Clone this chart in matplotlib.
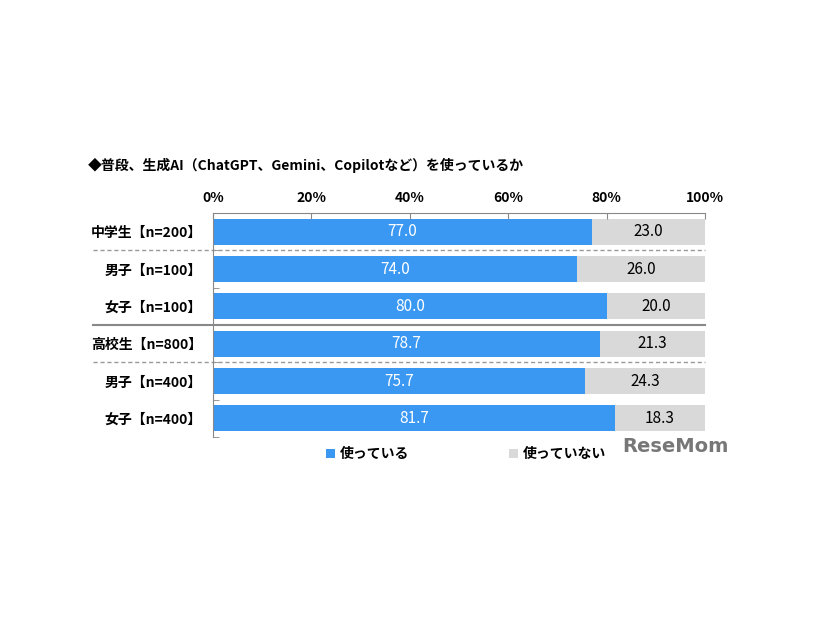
import matplotlib
matplotlib.use('Agg')
from matplotlib import pyplot as plt

plt.rcParams['font.family'] = ['Noto Sans CJK JP', 'DejaVu Sans']

title = '◆普段、生成AI（ChatGPT、Gemini、Copilotなど）を使っているか'
categories = ['中学生【n=200】', '男子【n=100】', '女子【n=100】',
              '高校生【n=800】', '男子【n=400】', '女子【n=400】']
using = [77.0, 74.0, 80.0, 78.7, 75.7, 81.7]
not_using = [23.0, 26.0, 20.0, 21.3, 24.3, 18.3]
series_names = ['使っている', '使っていない']

BLUE = '#3A98F2'
GREY = '#D9D9D9'


def main():
    fig = plt.figure(figsize=(8.26, 6.2), dpi=100)
    ax = fig.add_axes([213 / 826, 1 - 437 / 620, 492 / 826, 224 / 620])

    ys = list(range(len(categories)))
    ax.barh(ys, using, height=0.7, color=BLUE, label=series_names[0])
    ax.barh(ys, not_using, left=using, height=0.7, color=GREY, label=series_names[1])

    for y, u, n in zip(ys, using, not_using):
        ax.text(u / 2, y, f'{u:.1f}', ha='center', va='center', color='white', fontsize=11)
        ax.text(u + n / 2, y, f'{n:.1f}', ha='center', va='center', color='black', fontsize=11)

    ax.set_xlim(0, 100)
    ax.set_ylim(len(categories) - 0.5, -0.5)
    ax.set_yticks(ys)
    ax.set_yticklabels(categories, fontsize=10, fontweight='bold')
    ax.set_yticks([i - 0.5 for i in range(len(categories) + 1)], minor=True)
    ax.tick_params(axis='y', which='major', length=0, pad=8)
    ax.tick_params(axis='y', which='minor', direction='in', length=4, color='#888888')

    ax.xaxis.tick_top()
    ax.set_xticks([0, 20, 40, 60, 80, 100])
    ax.set_xticklabels(['0%', '20%', '40%', '60%', '80%', '100%'], fontsize=10, fontweight='bold')
    ax.tick_params(axis='x', direction='in', length=4, color='#888888', pad=6)

    for s in ['right', 'bottom']:
        ax.spines[s].set_visible(False)
    for s in ['top', 'left']:
        ax.spines[s].set_color('#888888')
        ax.spines[s].set_linewidth(0.8)

    # group separators
    tr = ax.get_yaxis_transform()
    x0 = (93 - 213) / 492
    ax.plot([x0, 1], [0.5, 0.5], transform=tr, clip_on=False, color='#999999', lw=1, ls=(0, (3, 2)))
    ax.plot([x0, 1], [3.5, 3.5], transform=tr, clip_on=False, color='#999999', lw=1, ls=(0, (3, 2)))
    ax.plot([x0, 1], [2.5, 2.5], transform=tr, clip_on=False, color='#888888', lw=1.5)

    fig.text(88 / 826, 1 - 165 / 620, title, fontsize=10, fontweight='bold', va='center')

    ax.legend(loc='upper center', bbox_to_anchor=(0.515, 0.01), ncol=2, frameon=False,
              prop={'weight': 'bold', 'size': 10}, handlelength=0.6, handleheight=0.6,
              columnspacing=7.2, handletextpad=0.4)

    fig.text(622 / 826, 1 - 447 / 620, 'ReseMom', fontsize=14, fontweight='bold',
             color='#777777', va='center', family='DejaVu Sans')

    fig.savefig('out.png', dpi=100)


if __name__ == '__main__':
    main()
